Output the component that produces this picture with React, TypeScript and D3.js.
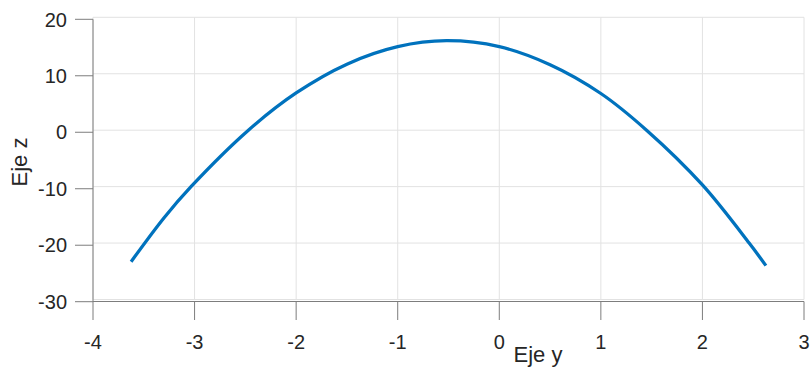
import React from "react";
import * as d3 from "d3";

// Curve samples (Eje y, Eje z)
const ejeY = [-3.625, -3.3, -3.035, -2.47, -2.0, -1.5, -1.0, -0.52, 0.0, 0.5, 1.0, 1.45, 2.0, 2.46, 2.625];
const ejeZ = [-23.3, -15.5, -10.0, 0.0, 6.6, 11.7, 14.8, 15.85, 14.8, 11.6, 6.5, 0.0, -9.7, -20.0, -24.0];

const xTicks = [-4, -3, -2, -1, 0, 1, 2, 3];
const zTicks = [20, 10, 0, -10, -20, -30];

const W = 812;
const H = 379;
const FONT = "'Liberation Sans', Arial, Helvetica, sans-serif";
const TEXT = "#262626";
const AXIS = "#7d7d7d";
const GRID = "#e2e2e2";
const LINE = "#0072BD";

export default function App() {
  const x = d3.scaleLinear().domain([-4, 3]).range([93, 804]);
  // plot box (grid) and the slightly offset z ruler
  const zBox = d3.scaleLinear().domain([-30, 20]).range([299.5, 17.3]);
  const zRuler = d3.scaleLinear().domain([-30, 20]).range([301.7, 19.3]);

  const pts: [number, number][] = ejeY.map((v, i) => [v, ejeZ[i]]);
  const line = d3
    .line<[number, number]>()
    .x((d) => x(d[0]))
    .y((d) => zBox(d[1]))
    .curve(d3.curveCatmullRom.alpha(0.5));

  const [x0, x1] = x.range();
  const axisY = 301.5;

  return (
    <svg
      width={W}
      height={H}
      style={{ position: "absolute", left: 0, top: 0, background: "#fff" }}
      fontFamily={FONT}
    >
      {/* grid */}
      {zTicks.map((t) => (
        <line key={"gz" + t} x1={x0} x2={x1} y1={zBox(t)} y2={zBox(t)} stroke={GRID} strokeWidth={1} />
      ))}
      {xTicks.map((t) => (
        <line key={"gx" + t} x1={x(t)} x2={x(t)} y1={zBox(20)} y2={zBox(-30)} stroke={GRID} strokeWidth={1} />
      ))}

      {/* data */}
      <path d={line(pts) || ""} fill="none" stroke={LINE} strokeWidth={3.3} strokeLinejoin="round" />

      {/* z axis */}
      <line x1={x0} x2={x0} y1={zRuler(20)} y2={zRuler(-30)} stroke={AXIS} strokeWidth={1} />
      {zTicks.map((t) => (
        <g key={"tz" + t}>
          <line x1={x0 - 18} x2={x0} y1={zRuler(t)} y2={zRuler(t)} stroke={AXIS} strokeWidth={1} />
          <text x={67} y={zRuler(t)} dy="0.36em" textAnchor="end" fontSize={20} fill={TEXT}>
            {String(t)}
          </text>
        </g>
      ))}

      {/* y axis */}
      <line x1={x0} x2={x1} y1={axisY} y2={axisY} stroke={AXIS} strokeWidth={1.2} />
      {xTicks.map((t) => (
        <g key={"tx" + t}>
          <line x1={x(t)} x2={x(t)} y1={axisY} y2={axisY + 18.5} stroke={AXIS} strokeWidth={1} />
          <text x={x(t)} y={341.7} dy="0.36em" textAnchor="middle" fontSize={20} fill={TEXT}>
            {String(t)}
          </text>
        </g>
      ))}

      {/* axis labels */}
      <text x={538} y={361.5} textAnchor="middle" fontSize={22} fill={TEXT}>
        Eje y
      </text>
      <text
        transform={`translate(27,162) rotate(-90)`}
        textAnchor="middle"
        fontSize={22}
        fill={TEXT}
      >
        Eje z
      </text>
    </svg>
  );
}
